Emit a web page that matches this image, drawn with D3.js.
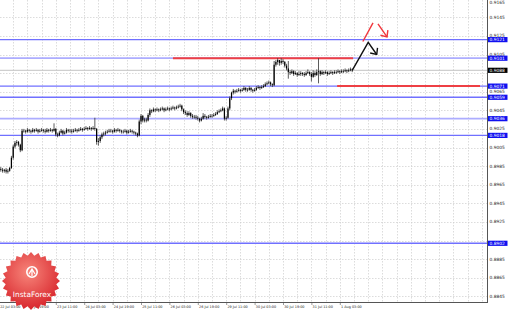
<!DOCTYPE html>
<html>
<head>
<meta charset="utf-8">
<style>
  body { margin: 0; background: #fff; }
  svg { display: block; font-family: "DejaVu Sans", sans-serif; }
</style>
</head>
<body>
<script src="https://cdn.jsdelivr.net/npm/d3@7/dist/d3.min.js"></script>
<script>
// H1 bars, 22 Jul 03:00 .. 1 Aug 10:00 (open of each bar = previous close)
var firstOpen = 0.8981;
var closes = [
  .8982,.8981,.8980,.8981,.8979,.8980,.8983,.8994,.9006,.9010,
  .9011,.9008,.9002,.9023,.9023,.9022,.9024,.9023,.9022,.9024,
  .9023,.9024,.9022,.9023,.9024,.9023,.9022,.9024,.9023,.9024,
  .9023,.9025,.9019,.9018,.9021,.9023,.9020,.9021,.9024,.9023,
  .9023,.9022,.9023,.9024,.9023,.9024,.9025,.9024,.9025,.9026,
  .9025,.9026,.9025,.9026,.9025,.9011,.9012,.9016,.9019,.9020,
  .9021,.9022,.9023,.9023,.9022,.9024,.9023,.9024,.9023,.9022,
  .9022,.9023,.9021,.9022,.9023,.9022,.9021,.9020,.9018,.9033,
  .9039,.9034,.9035,.9034,.9040,.9045,.9044,.9046,.9045,.9046,
  .9045,.9046,.9047,.9045,.9046,.9047,.9046,.9047,.9048,.9047,
  .9048,.9049,.9050,.9046,.9043,.9042,.9040,.9042,.9039,.9038,
  .9038,.9037,.9036,.9034,.9036,.9039,.9038,.9037,.9038,.9039,
  .9039,.9040,.9041,.9043,.9044,.9045,.9047,.9036,.9037,.9047,
  .9058,.9064,.9066,.9065,.9066,.9067,.9066,.9067,.9069,.9067,
  .9067,.9069,.9067,.9066,.9067,.9069,.9070,.9069,.9070,.9071,
  .9073,.9074,.9075,.9073,.9072,.9094,.9097,.9099,.9096,.9098,
  .9097,.9093,.9090,.9086,.9085,.9087,.9084,.9085,.9083,.9084,
  .9085,.9084,.9083,.9085,.9086,.9084,.9081,.9085,.9083,.9086,
  .9087,.9084,.9086,.9085,.9086,.9084,.9085,.9086,.9085,.9086,
  .9086,.9087,.9086,.9087,.9087,.9088,.9087,.9088,.9089,.9088
];
var highs = [
  .8984,.8984,.8983,.8982,.8983,.8982,.8984,.8996,.9008,.9012,
  .9013,.9012,.9009,.9025,.9025,.9024,.9026,.9025,.9024,.9026,
  .9025,.9026,.9025,.9025,.9026,.9025,.9025,.9026,.9025,.9026,
  .9025,.9031,.9026,.9021,.9023,.9025,.9024,.9023,.9026,.9025,
  .9025,.9025,.9025,.9026,.9025,.9026,.9027,.9026,.9027,.9028,
  .9027,.9028,.9027,.9028,.9037,.9026,.9015,.9018,.9021,.9022,
  .9023,.9024,.9025,.9025,.9024,.9026,.9025,.9026,.9025,.9024,
  .9024,.9025,.9024,.9024,.9025,.9024,.9023,.9022,.9021,.9035,
  .9041,.9040,.9037,.9037,.9042,.9047,.9046,.9048,.9047,.9048,
  .9047,.9048,.9049,.9048,.9048,.9049,.9048,.9049,.9050,.9049,
  .9050,.9051,.9052,.9051,.9047,.9045,.9044,.9044,.9043,.9041,
  .9040,.9040,.9039,.9037,.9038,.9042,.9041,.9039,.9040,.9041,
  .9041,.9042,.9043,.9045,.9046,.9047,.9049,.9048,.9039,.9049,
  .9060,.9065,.9068,.9067,.9068,.9069,.9068,.9069,.9071,.9070,
  .9069,.9071,.9070,.9068,.9069,.9071,.9072,.9071,.9072,.9073,
  .9075,.9076,.9077,.9076,.9074,.9098,.9099,.9101,.9099,.9101,
  .9100,.9098,.9095,.9098,.9088,.9089,.9088,.9087,.9086,.9087,
  .9087,.9086,.9086,.9087,.9089,.9087,.9086,.9088,.9087,.9089,
  .9101,.9088,.9088,.9087,.9088,.9087,.9087,.9088,.9087,.9088,
  .9088,.9089,.9088,.9089,.9089,.9090,.9089,.9090,.9091,.9090
];
var lows = [
  .8979,.8979,.8978,.8978,.8977,.8977,.8979,.8982,.8992,.9004,
  .9007,.9006,.9000,.9001,.9021,.9020,.9021,.9021,.9020,.9021,
  .9021,.9022,.9020,.9021,.9022,.9021,.9020,.9021,.9021,.9022,
  .9021,.9022,.9017,.9016,.9017,.9020,.9018,.9019,.9020,.9021,
  .9021,.9020,.9021,.9022,.9021,.9022,.9023,.9022,.9023,.9024,
  .9023,.9024,.9023,.9024,.9023,.9008,.9007,.9010,.9014,.9017,
  .9018,.9020,.9021,.9021,.9020,.9021,.9021,.9022,.9021,.9020,
  .9020,.9021,.9019,.9020,.9021,.9020,.9019,.9018,.9016,.9017,
  .9030,.9032,.9032,.9032,.9033,.9038,.9042,.9043,.9043,.9044,
  .9043,.9044,.9045,.9043,.9044,.9045,.9044,.9045,.9046,.9045,
  .9046,.9047,.9048,.9044,.9041,.9040,.9038,.9039,.9037,.9036,
  .9036,.9035,.9034,.9032,.9033,.9035,.9036,.9035,.9036,.9037,
  .9037,.9038,.9039,.9040,.9042,.9043,.9044,.9034,.9034,.9036,
  .9045,.9056,.9062,.9063,.9064,.9065,.9064,.9065,.9066,.9065,
  .9065,.9066,.9065,.9064,.9065,.9066,.9068,.9067,.9068,.9069,
  .9070,.9072,.9073,.9071,.9070,.9071,.9092,.9094,.9093,.9094,
  .9095,.9091,.9088,.9079,.9083,.9084,.9082,.9083,.9081,.9082,
  .9082,.9082,.9081,.9082,.9084,.9082,.9076,.9080,.9081,.9082,
  .9074,.9082,.9083,.9083,.9084,.9082,.9083,.9084,.9083,.9084,
  .9084,.9085,.9084,.9085,.9085,.9086,.9085,.9086,.9087,.9086
];

var timeLabels = ["22 Jul 03:00", "22 Jul 19:00", "23 Jul 11:00", "24 Jul 03:00", "24 Jul 19:00",
  "25 Jul 11:00", "26 Jul 03:00", "26 Jul 19:00", "29 Jul 11:00", "30 Jul 03:00",
  "30 Jul 19:00", "31 Jul 11:00", "1 Aug 03:00"];
var priceTicks = [0.8845, 0.8865, 0.8885, 0.8905, 0.8925, 0.8945, 0.8965, 0.8985, 0.9005,
  0.9025, 0.9045, 0.9065, 0.9085, 0.9105, 0.9125, 0.9145, 0.9165];

// horizontal levels
var levelValues = [0.9121, 0.9101, 0.9071, 0.9059, 0.9036, 0.9018, 0.8902];
var levelFaint  = [false,  true,   false,  false,  true,   false,  false];
var lastPrice = 0.9088;

// red resistance / support segments: [fromBar, toBar, price]
var redLevels = [[98, 199.5, 0.9101], [190.5, 271, 0.9071]];

// forecast paths [bar, price]
var blackPath = [[199, 0.9088], [208, 0.9118], [212.8, 0.9105]];
var redPath1 = [[205, 0.9119], [210.7, 0.9139]];
var redPath2 = [[213.5, 0.9138], [218.6, 0.9124]];

var W = 510, H = 310;
var plotR = 487, plotB = 302;
var barsPerLabel = 16;

var x = d3.scaleLinear().domain([0, 192]).range([-1, 339.8]);
var y = d3.scaleLinear().domain([0.8845, 0.9165]).range([296.3, -1.3]);

var svg = d3.select("body").append("svg")
    .attr("width", W).attr("height", H);

var defs = svg.append("defs");
defs.append("clipPath").attr("id", "plot")
  .append("rect").attr("x", 0).attr("y", 0).attr("width", plotR).attr("height", plotB);

function marker(id, color) {
  defs.append("marker").attr("id", id)
    .attr("markerUnits", "userSpaceOnUse")
    .attr("viewBox", "-7 -6 8 12")
    .attr("markerWidth", 8).attr("markerHeight", 12)
    .attr("refX", 0).attr("refY", 0)
    .attr("orient", "auto")
    .append("path")
    .attr("d", "M-5,-4.5L0,0L-5,4.5")
    .attr("fill", "none").attr("stroke", color).attr("stroke-width", 1.4);
}
marker("arrBlack", "#111");
marker("arrRed", "#f0363c");

// grid
var grid = svg.append("g").attr("stroke", "#cdcdcd").attr("stroke-width", 0.7)
    .attr("stroke-dasharray", "1.5,1.5");
grid.selectAll("line.h").data(priceTicks).join("line")
    .attr("x1", 0).attr("x2", plotR)
    .attr("y1", d => Math.round(y(d)) + 0.5).attr("y2", d => Math.round(y(d)) + 0.5);
var gridBars = d3.range(0, 280, 8);
grid.selectAll("line.v").data(gridBars.filter(b => x(b) > 0 && x(b) < plotR)).join("line")
    .attr("y1", 0).attr("y2", plotB)
    .attr("x1", d => Math.round(x(d)) + 0.5).attr("x2", d => Math.round(x(d)) + 0.5);

var plot = svg.append("g").attr("clip-path", "url(#plot)");

// current price line
plot.append("line")
    .attr("x1", 0).attr("x2", plotR)
    .attr("y1", y(lastPrice)).attr("y2", y(lastPrice))
    .attr("stroke", "#c4c4c4").attr("stroke-width", 1);

// blue levels
plot.selectAll("line.lvl").data(levelValues).join("line")
    .attr("x1", 0).attr("x2", plotR)
    .attr("y1", d => y(d)).attr("y2", d => y(d))
    .attr("stroke", (d, i) => levelFaint[i] ? "#adadff" : "#7070ff")
    .attr("stroke-width", (d, i) => levelFaint[i] ? 1.7 : 1.4);

// red levels
plot.selectAll("line.red").data(redLevels).join("line")
    .attr("x1", d => x(d[0])).attr("x2", d => x(d[1]))
    .attr("y1", d => y(d[2])).attr("y2", d => y(d[2]))
    .attr("stroke", "#ee3f44").attr("stroke-width", 2);

// candles
var bars = closes.map((c, i) => ({
  i: i, o: i === 0 ? firstOpen : closes[i - 1], c: c, h: highs[i], l: lows[i]
}));
var cg = plot.append("g");
cg.selectAll("line").data(bars).join("line")
    .attr("x1", d => x(d.i)).attr("x2", d => x(d.i))
    .attr("y1", d => y(d.h)).attr("y2", d => y(d.l))
    .attr("stroke", "#333").attr("stroke-width", 0.8);
cg.selectAll("rect").data(bars).join("rect")
    .attr("x", d => x(d.i) - 0.6)
    .attr("width", 1.2)
    .attr("y", d => y(Math.max(d.o, d.c)))
    .attr("height", d => Math.max(0.6, Math.abs(y(d.o) - y(d.c))))
    .attr("fill", "#000");

// forecast arrows
var line = d3.line().x(d => x(d[0])).y(d => y(d[1]));
plot.append("path").datum(blackPath).attr("d", line)
    .attr("fill", "none").attr("stroke", "#111").attr("stroke-width", 1.4)
    .attr("marker-end", "url(#arrBlack)");
plot.append("path").datum(redPath1).attr("d", line)
    .attr("fill", "none").attr("stroke", "#f0363c").attr("stroke-width", 1.4);
plot.append("path").datum(redPath2).attr("d", line)
    .attr("fill", "none").attr("stroke", "#f0363c").attr("stroke-width", 1.4)
    .attr("marker-end", "url(#arrRed)");

// axes lines
svg.append("line").attr("x1", plotR + 0.5).attr("x2", plotR + 0.5).attr("y1", 0).attr("y2", plotB)
    .attr("stroke", "#555").attr("stroke-width", 1);
svg.append("line").attr("x1", 0).attr("x2", plotR + 1).attr("y1", plotB + 0.5).attr("y2", plotB + 0.5)
    .attr("stroke", "#555").attr("stroke-width", 1);

// price labels (those hidden under a level tag are not drawn, as in the terminal)
var tagValues = levelValues.concat([lastPrice]);
var shownTicks = priceTicks.filter(t => tagValues.every(v => Math.abs(y(v) - y(t)) > 3.2));
svg.append("g").selectAll("text").data(shownTicks).join("text")
    .attr("x", plotR + 2.5).attr("y", d => Math.max(2.8, y(d)))
    .attr("dy", "0.35em")
    .attr("font-size", 4.4).attr("fill", "#222")
    .text(d => d.toFixed(4));

// time labels
var tg = svg.append("g");
tg.selectAll("line").data(timeLabels).join("line")
    .attr("x1", (d, i) => x(i * barsPerLabel) + 0.5).attr("x2", (d, i) => x(i * barsPerLabel) + 0.5)
    .attr("y1", plotB).attr("y2", plotB + 3)
    .attr("stroke", "#555").attr("stroke-width", 0.6);
tg.selectAll("text").data(timeLabels).join("text")
    .attr("x", (d, i) => x(i * barsPerLabel) + 1.2).attr("y", plotB + 5.6)
    .attr("font-size", 3.4).attr("fill", "#222")
    .text(d => d);

// level tags
function tag(v, bg) {
  var g = svg.append("g");
  g.append("rect").attr("x", plotR + 1).attr("y", y(v) - 2.6).attr("width", 19.5).attr("height", 5.2)
    .attr("fill", bg);
  g.append("text").attr("x", plotR + 2.5).attr("y", y(v)).attr("dy", "0.35em")
    .attr("font-size", 4.4).attr("fill", "#fff").text(v.toFixed(4));
}
levelValues.forEach(v => tag(v, "#1010f0"));
tag(lastPrice, "#000");

// InstaForex badge
var logo = svg.append("g").attr("transform", "translate(31,281)");
var grad = defs.append("radialGradient").attr("id", "lg").attr("cx", "45%").attr("cy", "35%").attr("r", "65%");
grad.append("stop").attr("offset", "0%").attr("stop-color", "#f7857a");
grad.append("stop").attr("offset", "100%").attr("stop-color", "#d8262d");
var pts = d3.range(48).map(k => [k * Math.PI / 24, k % 2 ? 25.5 : 29]);
logo.append("path")
    .attr("d", d3.lineRadial().curve(d3.curveLinearClosed)(pts))
    .attr("fill", "url(#lg)");
logo.append("circle").attr("cx", 1).attr("cy", -9).attr("r", 5.2)
    .attr("fill", "none").attr("stroke", "#fff").attr("stroke-width", 1.6);
logo.append("path").attr("d", "M-2,-7 L1,-12 L4,-7 M1,-12 L1,-5")
    .attr("fill", "none").attr("stroke", "#fff").attr("stroke-width", 1.2);
logo.append("text").attr("x", 1).attr("y", 16).attr("text-anchor", "middle")
    .attr("font-size", 7.4).attr("fill", "#fff").text("InstaForex");
</script>
</body>
</html>
